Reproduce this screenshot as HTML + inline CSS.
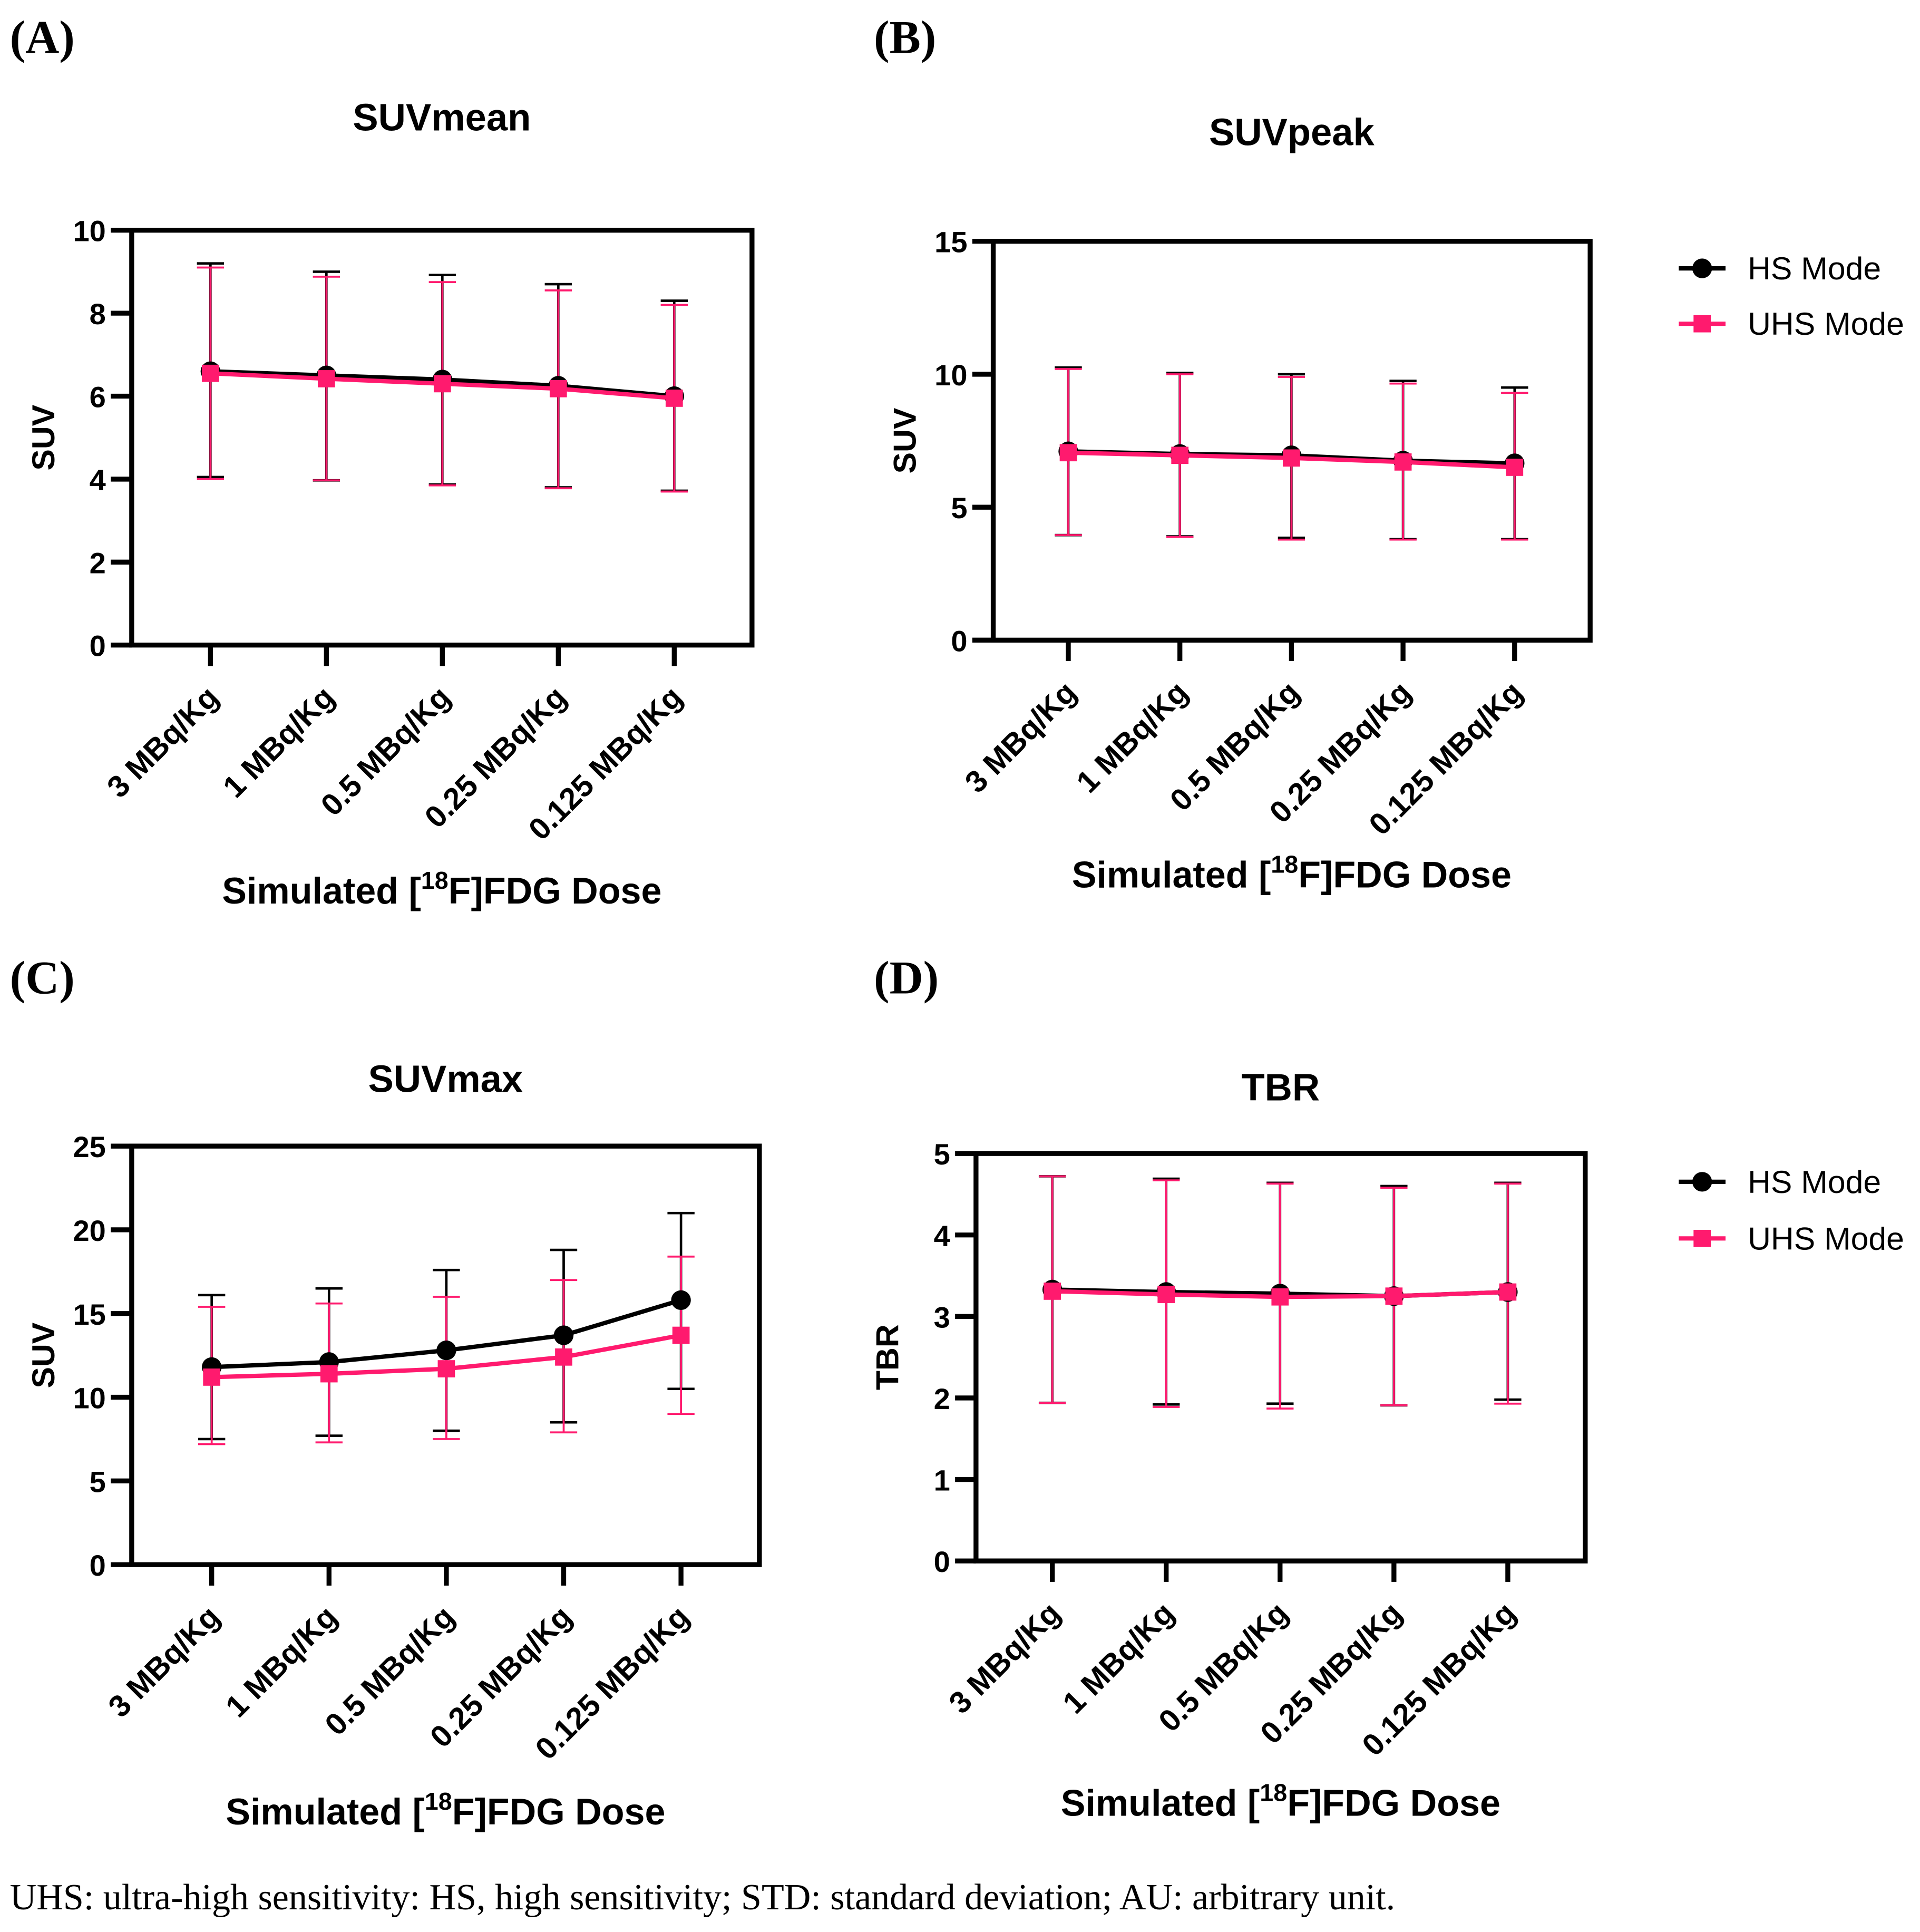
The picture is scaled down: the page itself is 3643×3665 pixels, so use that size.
<!DOCTYPE html>
<html><head><meta charset="utf-8"><style>html,body{margin:0;padding:0;background:#fff}svg{display:block}</style></head>
<body>
<svg id="fig" xmlns="http://www.w3.org/2000/svg" width="3643" height="3665" viewBox="0 0 1560 1569.4">
<rect width="1560" height="1569.4" fill="#fff"/>
<g font-family="Liberation Serif, serif" font-weight="bold" font-size="38">
<text x="8" y="43">(A)</text>
<text x="710" y="43">(B)</text>
<text x="8" y="807">(C)</text>
<text x="710" y="807">(D)</text>
</g>
<text x="8" y="1551" font-family="Liberation Serif, serif" font-size="30">UHS: ultra-high sensitivity: HS, high sensitivity; STD: standard deviation; AU: arbitrary unit.</text>
<g id="charts"></g>
</svg>
<script>
const categories = ["3 MBq/Kg","1 MBq/Kg","0.5 MBq/Kg","0.25 MBq/Kg","0.125 MBq/Kg"];
// Panel A SUVmean
const aHS = [6.6,6.5,6.4,6.25,6.0];
const aHSup = [9.2,9.0,8.92,8.7,8.3];
const aHSlo = [4.05,3.97,3.87,3.8,3.72];
const aUHS = [6.55,6.42,6.3,6.18,5.95];
const aUHSup = [9.1,8.88,8.75,8.55,8.2];
const aUHSlo = [4.0,3.97,3.85,3.78,3.7];
const aTicks = [0,2,4,6,8,10];
// Panel B SUVpeak
const bHS = [7.1,7.0,6.95,6.75,6.65];
const bHSup = [10.25,10.05,10.0,9.75,9.5];
const bHSlo = [3.95,3.9,3.85,3.8,3.8];
const bUHS = [7.05,6.95,6.85,6.7,6.5];
const bUHSup = [10.2,10.0,9.9,9.65,9.3];
const bUHSlo = [3.95,3.88,3.78,3.78,3.78];
const bTicks = [0,5,10,15];
// Panel C SUVmax
const cHS = [11.8,12.1,12.8,13.7,15.8];
const cHSup = [16.1,16.5,17.6,18.8,21.0];
const cHSlo = [7.5,7.7,8.0,8.5,10.5];
const cUHS = [11.2,11.4,11.7,12.4,13.7];
const cUHSup = [15.4,15.6,16.0,17.0,18.4];
const cUHSlo = [7.2,7.3,7.5,7.9,9.0];
const cTicks = [0,5,10,15,20,25];
// Panel D TBR
const dHS = [3.33,3.3,3.28,3.25,3.3];
const dHSup = [4.72,4.69,4.64,4.6,4.64];
const dHSlo = [1.94,1.92,1.93,1.91,1.98];
const dUHS = [3.31,3.27,3.24,3.25,3.30];
const dUHSup = [4.72,4.67,4.63,4.58,4.63];
const dUHSlo = [1.94,1.89,1.87,1.91,1.93];
const dTicks = [0,1,2,3,4,5];

const NS="http://www.w3.org/2000/svg";
const root=document.getElementById('charts');
function mk(tag,attrs,parent){const e=document.createElementNS(NS,tag);for(const k in attrs)e.setAttribute(k,attrs[k]);(parent||root).appendChild(e);return e;}
const PINK="#ff1a6e";

function panel(id,cfg,hs,hsUp,hsLo,uhs,uhsUp,uhsLo,ticks){
  const g=mk('g',{});
  
  
  const L=cfg.l,R=cfg.r,T=cfg.t,B=cfg.b,max=ticks[ticks.length-1];
  const y=v=>B-(v/max)*(B-T);
  const step=(R-L)/5.35;
  const x=i=>L+cfg.x0+i*step;
  const f="Liberation Sans, sans-serif";
  const t=mk('text',{x:(L+R)/2,y:cfg.titleY,'text-anchor':'middle','font-family':f,'font-weight':'bold','font-size':31},g);
  t.textContent=cfg.title;
  
  
  const fr=mk('rect',{x:L,y:T,width:R-L,height:B-T,fill:'none',stroke:'#000','stroke-width':4},g);
  
  
  ticks.forEach(v=>{
    mk('line',{x1:L-17,x2:L,y1:y(v),y2:y(v),stroke:'#000','stroke-width':4},g);
    const tl=mk('text',{x:L-21,y:y(v)+9,'text-anchor':'end','font-family':f,'font-weight':'bold','font-size':24},g);
    tl.textContent=v;
    
    
  });
  categories.forEach((c,i)=>{
    mk('line',{x1:x(i),x2:x(i),y1:B,y2:B+17,stroke:'#000','stroke-width':4},g);
    const tl=mk('text',{transform:`translate(${x(i)+8},${B+44}) rotate(-45)`,'text-anchor':'end','font-family':f,'font-weight':'bold','font-size':25},g);
    tl.textContent=c;
    
    
  });
  const yl=mk('text',{transform:`translate(${L-63},${(T+B)/2}) rotate(-90)`,'text-anchor':'middle','font-family':f,'font-weight':'bold','font-size':26},g);
  yl.textContent=cfg.ylab;
  
  
  const xl=mk('text',{x:(L+R)/2,y:cfg.xtY,'text-anchor':'middle','font-family':f,'font-weight':'bold','font-size':30},g);
  xl.innerHTML='Simulated [<tspan font-size="20" dy="-12">18</tspan><tspan dy="12">F]FDG Dose</tspan>';
  
  
  function err(up,lo,col,nm){
    up.forEach((u,i)=>{
      const e=mk('path',{d:`M${x(i)},${y(lo[i])}V${y(u)}M${x(i)-11},${y(u)}h22M${x(i)-11},${y(lo[i])}h22`,stroke:col,'stroke-width':col==='#000'?2:1.6,fill:'none'},g);
      
      
    });
  }
  err(hsUp,hsLo,'#000',id+'-hs-error-bar');
  err(uhsUp,uhsLo,PINK,id+'-uhs-error-bar');
  const l1=mk('polyline',{points:hs.map((v,i)=>x(i)+','+y(v)).join(' '),stroke:'#000','stroke-width':3.5,fill:'none'},g);
  
  
  hs.forEach((v,i)=>{
    const c=mk('circle',{cx:x(i),cy:y(v),r:8,fill:'#000'},g);
    
    
  });
  const l2=mk('polyline',{points:uhs.map((v,i)=>x(i)+','+y(v)).join(' '),stroke:PINK,'stroke-width':3.5,fill:'none'},g);
  
  
  uhs.forEach((v,i)=>{
    const s=mk('rect',{x:x(i)-7,y:y(v)-7,width:14,height:14,fill:PINK},g);
    
    
  });
  if(cfg.legendY){
    const lg=mk('g',{},g);
    
    
    const ly=cfg.legendY;
    mk('line',{x1:1364,x2:1402,y1:ly,y2:ly,stroke:'#000','stroke-width':3.5},lg);
    mk('circle',{cx:1383,cy:ly,r:8,fill:'#000'},lg);
    const t1=mk('text',{x:1420,y:ly+9,'font-family':f,'font-size':26},lg);
    t1.textContent='HS Mode';
    
    
    const ly2=ly+cfg.legendGap;
    mk('line',{x1:1364,x2:1402,y1:ly2,y2:ly2,stroke:PINK,'stroke-width':3.5},lg);
    mk('rect',{x:1376,y:ly2-7,width:14,height:14,fill:PINK},lg);
    const t2=mk('text',{x:1420,y:ly2+9,'font-family':f,'font-size':26},lg);
    t2.textContent='UHS Mode';
    
    
  }
}
panel('suvmean',{l:107,r:611,t:187,b:524,x0:64,title:'SUVmean',titleY:106,ylab:'SUV',xtY:734},aHS,aHSup,aHSlo,aUHS,aUHSup,aUHSlo,aTicks);
panel('suvpeak',{l:807,r:1292,t:196,b:520,x0:61,title:'SUVpeak',titleY:118,ylab:'SUV',xtY:721,legendY:218,legendGap:45},bHS,bHSup,bHSlo,bUHS,bUHSup,bUHSlo,bTicks);
panel('suvmax',{l:107,r:617,t:931,b:1271,x0:65,title:'SUVmax',titleY:887,ylab:'SUV',xtY:1482},cHS,cHSup,cHSlo,cUHS,cUHSup,cUHSlo,cTicks);
panel('tbr',{l:793,r:1288,t:937,b:1268,x0:62,title:'TBR',titleY:894,ylab:'TBR',xtY:1475,legendY:960,legendGap:46},dHS,dHSup,dHSlo,dUHS,dUHSup,dUHSlo,dTicks);
</script>
</body></html>
